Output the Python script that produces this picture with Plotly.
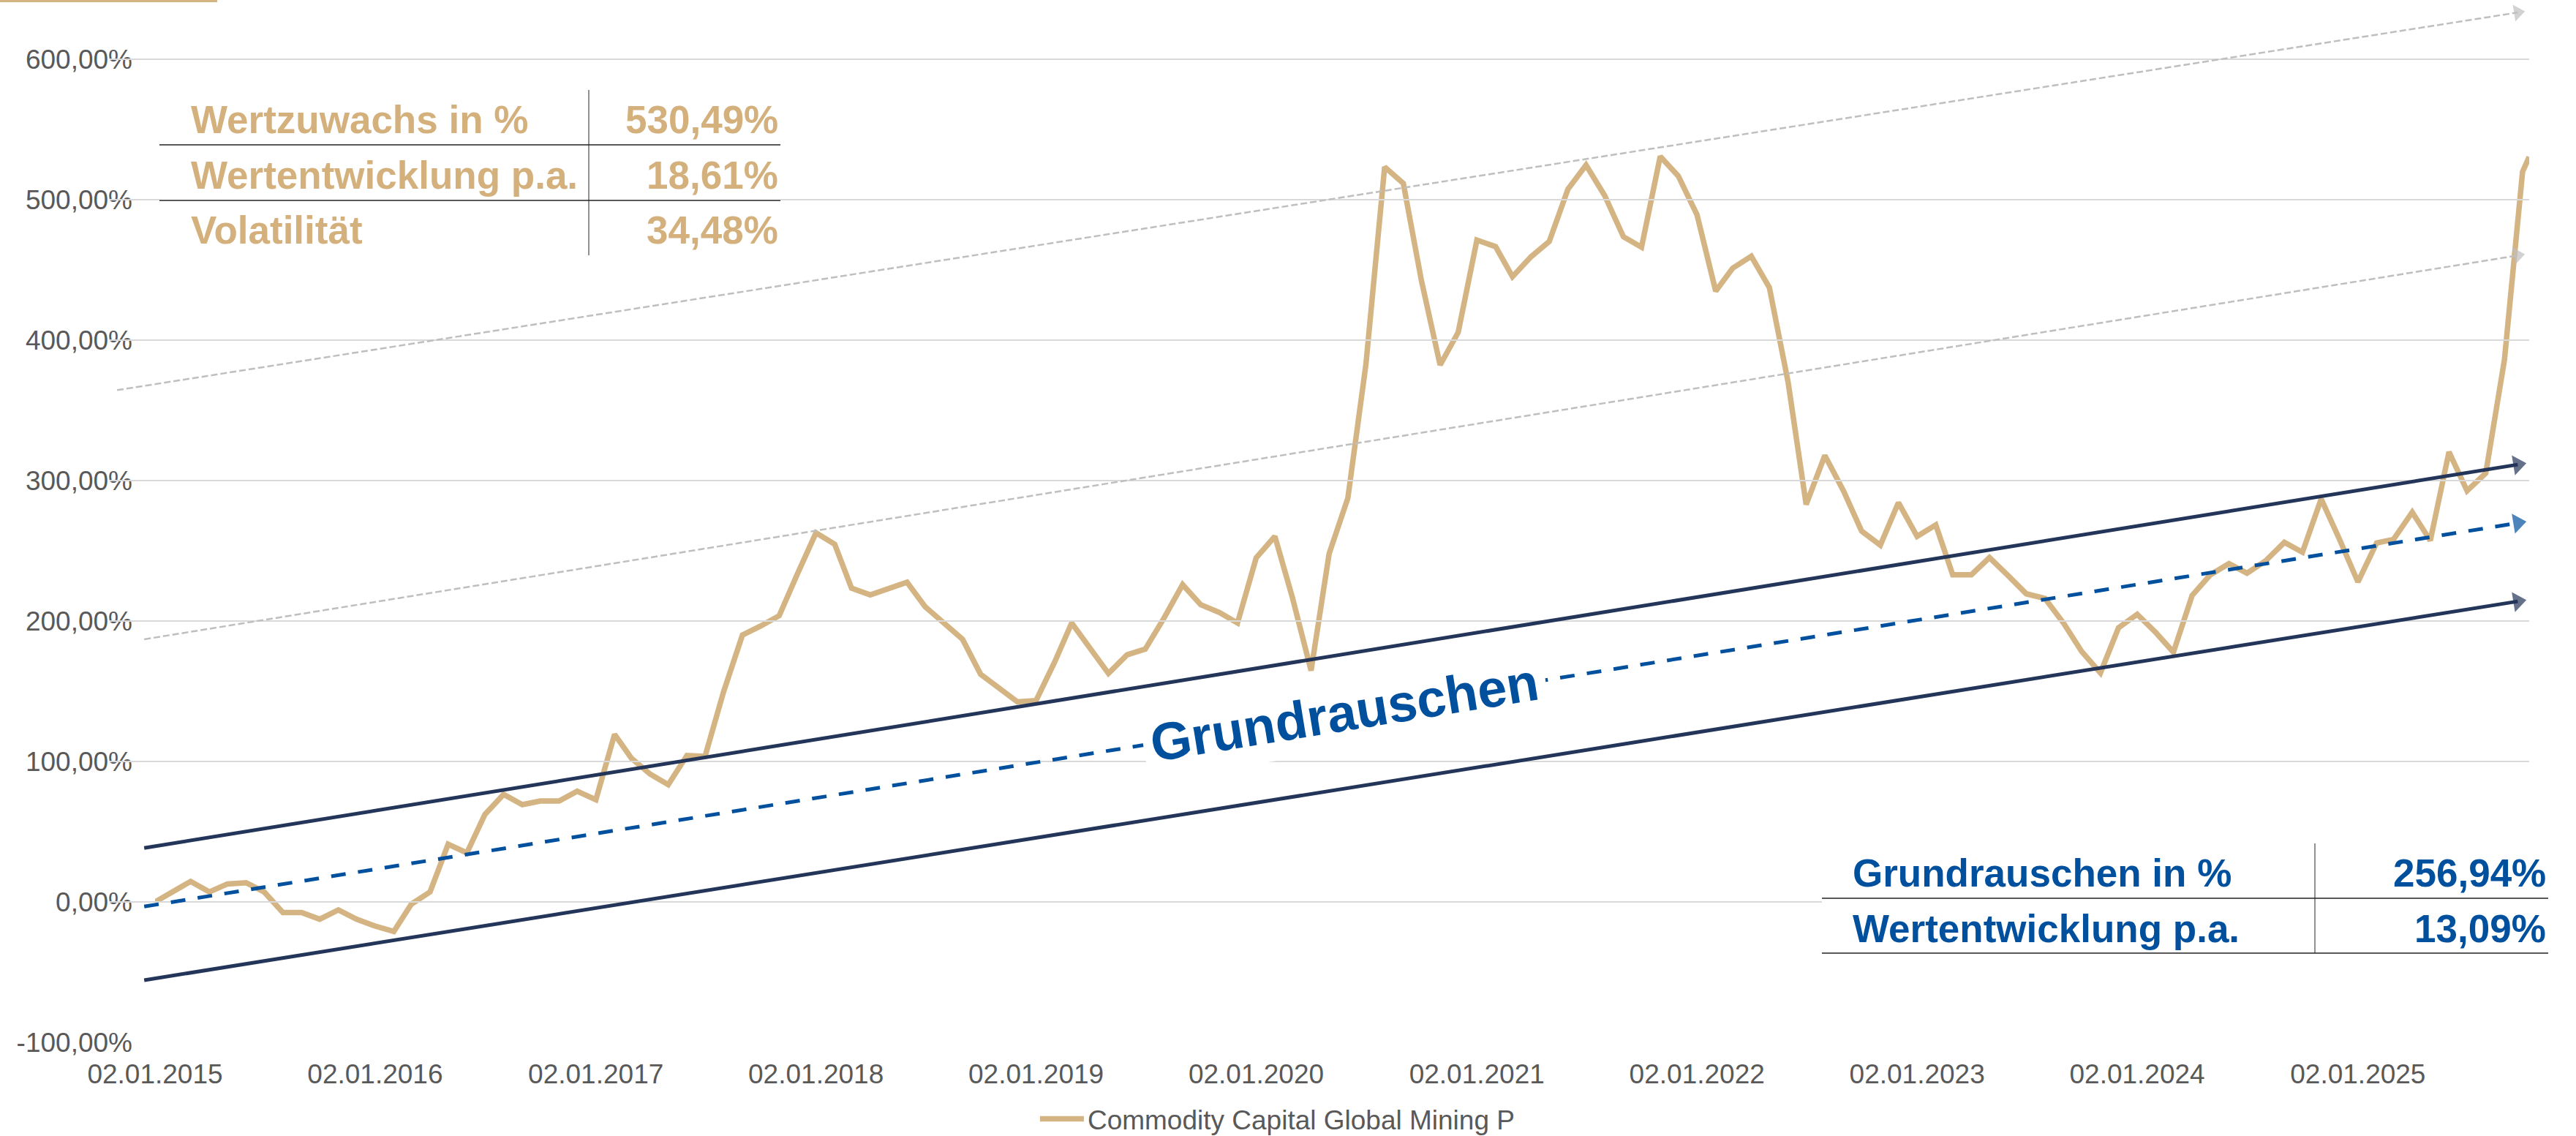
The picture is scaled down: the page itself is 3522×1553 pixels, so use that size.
import plotly.graph_objects as go
import pandas as pd

# ---------------- data ----------------
start_date = "2015-01-02"
last_date = "2025-10-13"
fund_name = "Commodity Capital Global Mining P"
fund_values = [
    0.0, 7.5, 14.6, 7.1, 12.8, 13.7, 7.1, -7.6, -7.6, -12.3, -5.7, -12.3,
    -17.2, -21.0, -1.6, 7.1, 41.1, 34.9, 62.3, 76.6, 69.3, 71.9, 71.9, 78.8,
    72.8, 119.3, 102.3, 91.0, 83.5, 104.3, 103.6, 150.0, 190.0, 196.4, 203.8, 233.3,
    262.8, 254.7, 223.4, 218.6, 222.9, 227.6, 210.2, 198.1, 187.0, 162.1, 151.7, 142.5,
    143.4, 171.0, 198.6, 180.7, 162.7, 176.0, 180.0, 202.0, 225.9, 211.6, 206.1, 198.6,
    245.0, 260.3, 216.8, 164.7, 248.0, 287.5, 382.9, 523.3, 511.6, 442.4, 382.3, 405.6,
    471.2, 466.6, 445.2, 459.5, 470.3, 507.5, 524.6, 502.9, 473.6, 466.2, 530.8, 516.8,
    489.3, 434.9, 451.2, 459.7, 437.5, 370.2, 283.0, 317.9, 292.6, 264.0, 254.0, 284.3,
    260.3, 268.4, 233.0, 233.0, 245.2, 232.3, 219.4, 216.1, 198.4, 178.3, 163.1, 195.2,
    204.8, 191.7, 177.8, 218.2, 232.8, 240.9, 234.1, 242.9, 256.0, 249.0, 286.9, 258.6,
    227.8, 255.6, 258.1, 277.5, 257.3, 320.4, 292.7, 305.3, 386.1, 519.9,
    530.49,
]
# monthly observations on the 2nd, plus the final (partial-month) observation
fund_dates = [(pd.Timestamp(start_date) + pd.DateOffset(months=i)).strftime("%Y-%m-%d")
              for i in range(len(fund_values) - 1)] + [last_date]

x_tick_dates = [f"{y}-01-02" for y in range(2015, 2026)]
x_tick_text = [f"02.01.{y}" for y in range(2015, 2026)]
y_tick_vals = [-100, 0, 100, 200, 300, 400, 500, 600]
y_tick_text = ["-100,00%", "0,00%", "100,00%", "200,00%", "300,00%", "400,00%", "500,00%", "600,00%"]

# channel / trend lines (start -> end, in chart coordinates)
trend_names = ["grey_upper", "grey_lower", "band_upper", "band_mid", "band_lower"]
trend_start_dates = ["2014-10-31", "2014-12-15", "2014-12-15", "2014-12-15", "2014-12-15"]
trend_start_vals = [364.4, 187.0, 38.4, -3.3, -55.7]
trend_end_dates = ["2025-09-24", "2025-09-24", "2025-09-24", "2025-09-24", "2025-09-24"]
trend_end_vals = [633.3, 460.3, 311.4, 269.8, 214.0]

label_text = "Grundrauschen"
label_date = "2020-05-27"
label_val = 134.9

table1_labels = ["Wertzuwachs in %", "Wertentwicklung p.a.", "Volatilität"]
table1_values = ["530,49%", "18,61%", "34,48%"]
table2_labels = ["Grundrauschen in %", "Wertentwicklung p.a."]
table2_values = ["256,94%", "13,09%"]

# ---------------- styles / layout ----------------
W, H = 3522, 1553
FONT = "Liberation Sans, Arial, sans-serif"
GOLD = "#D5B483"
GOLD_TXT = "#D4B07C"
NAVY = "#24355A"
BLUE = "#00509E"
GREY = "#BFBFBF"
AXIS_TXT = "#595959"
GRID = "#D9D9D9"

X_LEFT_PX, X_RIGHT_PX, X2_LEFT_PX = 212, 3458, 150
Y_BOTTOM_PX = 1425
PX_PER_PCT = 1.92

t0 = pd.Timestamp(start_date)
t1 = pd.Timestamp(last_date)
px_per_day = (X_RIGHT_PX - X_LEFT_PX) / (t1 - t0).days
x2_start = t0 - pd.Timedelta(days=(X_LEFT_PX - X2_LEFT_PX) / px_per_day)

y_min = -100
y_max = y_min + Y_BOTTOM_PX / PX_PER_PCT

trend_styles = {
    "grey_upper": dict(color=GREY, width=2.5, dash="9px,4px", size=20),
    "grey_lower": dict(color=GREY, width=2.5, dash="9px,4px", size=20),
    "band_upper": dict(color=NAVY, width=5, dash="solid", size=24),
    "band_mid": dict(color=BLUE, width=5, dash="20px,17px", size=24),
    "band_lower": dict(color=NAVY, width=5, dash="solid", size=24),
}

fig = go.Figure()

fig.add_trace(go.Scatter(
    x=fund_dates, y=fund_values, mode="lines", name=fund_name,
    line=dict(color=GOLD, width=7.5), xaxis="x", yaxis="y", hoverinfo="skip",
))

for n, sd, sv, ed, ev in zip(trend_names, trend_start_dates, trend_start_vals,
                             trend_end_dates, trend_end_vals):
    st = trend_styles[n]
    fig.add_trace(go.Scatter(
        x=[sd, ed], y=[sv, ev], mode="lines+markers", showlegend=False,
        line=dict(color=st["color"], width=st["width"], dash=st["dash"]),
        marker=dict(symbol="triangle-up", size=[0, st["size"]], color=st["color"],
                    angleref="previous", line=dict(width=0)),
        xaxis="x2", yaxis="y", hoverinfo="skip",
    ))

shapes = []
annotations = []

def px(x):
    return x / W

def py(y):
    return 1 - y / H

# top-left small gold bar
shapes.append(dict(type="rect", xref="paper", yref="paper", x0=0, x1=px(297),
                   y0=py(3), y1=1, fillcolor=GOLD, line=dict(width=0), layer="above"))

# ---- table 1 (gold) ----
shapes.append(dict(type="rect", xref="paper", yref="paper", x0=px(218), x1=px(1067),
                   y0=py(349), y1=py(123), fillcolor="white", line=dict(width=0), layer="above"))
for yy in (198, 274):
    shapes.append(dict(type="line", xref="paper", yref="paper", x0=px(218), x1=px(1067),
                       y0=py(yy), y1=py(yy), line=dict(color="#595959", width=2), layer="above"))
shapes.append(dict(type="line", xref="paper", yref="paper", x0=px(805), x1=px(805),
                   y0=py(123), y1=py(349), line=dict(color="#222222", width=1), layer="above"))
for i, (lab, val) in enumerate(zip(table1_labels, table1_values)):
    yc = 163.6 + i * 75.5
    annotations.append(dict(xref="paper", yref="paper", x=px(259), y=py(yc), text=lab,
                            showarrow=False, xanchor="left", yanchor="middle",
                            font=dict(family=FONT, size=53, color=GOLD_TXT, weight=700)))
    annotations.append(dict(xref="paper", yref="paper", x=px(1066), y=py(yc), text=val,
                            showarrow=False, xanchor="right", yanchor="middle",
                            font=dict(family=FONT, size=53, color=GOLD_TXT, weight=700)))

# ---- table 2 (blue) ----
shapes.append(dict(type="rect", xref="paper", yref="paper", x0=px(2491), x1=px(3484),
                   y0=py(1303), y1=py(1153), fillcolor="white", line=dict(width=0), layer="above"))
for yy in (1228, 1303):
    shapes.append(dict(type="line", xref="paper", yref="paper", x0=px(2491), x1=px(3484),
                       y0=py(yy), y1=py(yy), line=dict(color="#595959", width=2), layer="above"))
shapes.append(dict(type="line", xref="paper", yref="paper", x0=px(3165), x1=px(3165),
                   y0=py(1153), y1=py(1303), line=dict(color="#222222", width=1), layer="above"))
for i, (lab, val) in enumerate(zip(table2_labels, table2_values)):
    yc = 1193.6 + i * 76
    annotations.append(dict(xref="paper", yref="paper", x=px(2531), y=py(yc), text=lab,
                            showarrow=False, xanchor="left", yanchor="middle",
                            font=dict(family=FONT, size=53, color=BLUE, weight=700)))
    annotations.append(dict(xref="paper", yref="paper", x=px(3483), y=py(yc), text=val,
                            showarrow=False, xanchor="right", yanchor="middle",
                            font=dict(family=FONT, size=53, color=BLUE, weight=700)))

# ---- rotated channel label ----
annotations.append(dict(xref="x", yref="y", x=label_date, y=label_val, text=label_text,
                        showarrow=False, textangle=-9.2, bgcolor="white", borderpad=10,
                        xanchor="center", yanchor="middle",
                        font=dict(family=FONT, size=72, color=BLUE, weight=700)))

fig.update_layout(
    width=W, height=H,
    margin=dict(l=0, r=0, t=0, b=0, autoexpand=False),
    paper_bgcolor="white", plot_bgcolor="rgba(0,0,0,0)",
    font=dict(family=FONT, color=AXIS_TXT, size=37),
    hovermode=False,
    showlegend=True,
    legend=dict(orientation="h", x=0.496, xanchor="center", y=py(1530), yanchor="middle",
                font=dict(family=FONT, size=37, color=AXIS_TXT), itemwidth=60,
                bgcolor="rgba(0,0,0,0)", tracegroupgap=0),
    xaxis=dict(type="date", domain=[px(X_LEFT_PX), px(X_RIGHT_PX)],
               range=[start_date, last_date], tickvals=x_tick_dates, ticktext=x_tick_text,
               showgrid=False, zeroline=False, showline=False, ticks="",
               tickfont=dict(family=FONT, size=37, color=AXIS_TXT),
               ticklabelstandoff=18, automargin=False, anchor="y"),
    xaxis2=dict(type="date", domain=[px(X2_LEFT_PX), px(X_RIGHT_PX)],
                range=[x2_start.strftime("%Y-%m-%d %H:%M:%S"), last_date],
                visible=False, anchor="y", showgrid=False, zeroline=False),
    yaxis=dict(domain=[1 - Y_BOTTOM_PX / H, 1], range=[y_min, y_max],
               tickvals=y_tick_vals, ticktext=y_tick_text,
               showgrid=True, gridcolor=GRID, gridwidth=2, zeroline=False, showline=False,
               ticks="", tickfont=dict(family=FONT, size=37, color=AXIS_TXT),
               ticklabelstandoff=30, automargin=False, anchor="x"),
    shapes=shapes,
    annotations=annotations,
)

fig.write_html(
    "out.html",
    config={"displayModeBar": False, "staticPlot": True},
    post_script="document.body.style.margin='0';document.body.style.padding='0';"
                "document.body.style.overflow='hidden';",
)
